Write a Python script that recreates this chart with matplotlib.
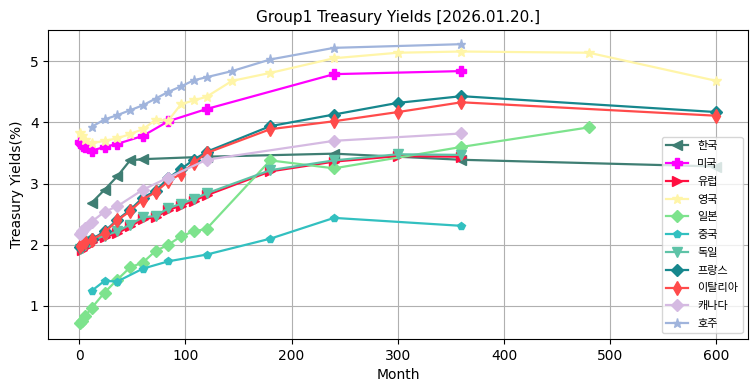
import numpy as np
import pandas as pd
import matplotlib
matplotlib.use('Agg')
import matplotlib.pyplot as plt

plt.rcParams['font.family'] = ['DejaVu Sans', 'Noto Sans CJK KR']

# 만기(개월)와 금리(%)
kr_m = [12, 24, 36, 48, 60, 120, 240, 360, 600]
kr_y = [2.69, 2.90, 3.12, 3.38, 3.40, 3.44, 3.49, 3.39, 3.28]

us_m = [1, 2, 3, 4, 6, 12, 24, 36, 60, 84, 120, 240, 360]
us_y = [3.68, 3.66, 3.64, 3.62, 3.60, 3.54, 3.60, 3.65, 3.78, 4.02, 4.22, 4.79, 4.84]

eu_m = [3, 6, 9, 12, 24, 36, 48, 60, 72, 84, 96, 108, 120, 180, 240, 300, 360]
eu_y = [1.91, 1.96, 2.00, 2.04, 2.12, 2.19, 2.30, 2.42, 2.45, 2.57, 2.64, 2.72, 2.81, 3.20, 3.36, 3.45, 3.44]

uk_m = [1, 3, 6, 12, 24, 36, 48, 60, 72, 84, 96, 108, 120, 144, 180, 240, 300, 360, 480, 600]
uk_y = [3.82, 3.78, 3.72, 3.66, 3.70, 3.74, 3.81, 3.89, 4.04, 4.03, 4.30, 4.36, 4.42, 4.68, 4.81, 5.05, 5.14, 5.16, 5.14, 4.68]

jp_m = [1, 3, 6, 12, 24, 36, 48, 60, 72, 84, 96, 108, 120, 180, 240, 360, 480]
jp_y = [0.72, 0.75, 0.84, 0.97, 1.22, 1.43, 1.63, 1.71, 1.90, 2.00, 2.14, 2.22, 2.26, 3.38, 3.25, 3.60, 3.92]

cn_m = [12, 24, 36, 60, 84, 120, 180, 240, 360]
cn_y = [1.25, 1.41, 1.40, 1.61, 1.73, 1.84, 2.10, 2.44, 2.31]

de_m = [1, 3, 6, 9, 12, 24, 36, 48, 60, 72, 84, 96, 108, 120, 180, 240, 300, 360]
de_y = [1.93, 1.95, 2.00, 2.04, 2.07, 2.15, 2.22, 2.33, 2.45, 2.47, 2.60, 2.67, 2.75, 2.84, 3.22, 3.38, 3.48, 3.47]

fr_m = [1, 3, 6, 12, 24, 36, 48, 60, 72, 84, 96, 108, 120, 180, 240, 300, 360, 600]
fr_y = [1.97, 2.00, 2.04, 2.09, 2.22, 2.41, 2.57, 2.77, 2.88, 3.09, 3.24, 3.39, 3.52, 3.94, 4.13, 4.32, 4.43, 4.17]

it_m = [1, 3, 6, 12, 24, 36, 48, 60, 72, 84, 96, 108, 120, 180, 240, 300, 360, 600]
it_y = [1.98, 2.01, 2.04, 2.08, 2.20, 2.40, 2.55, 2.74, 2.86, 3.04, 3.16, 3.34, 3.50, 3.89, 4.02, 4.17, 4.33, 4.11]

ca_m = [1, 2, 3, 6, 12, 24, 36, 60, 84, 120, 240, 360]
ca_y = [2.18, 2.20, 2.22, 2.27, 2.38, 2.54, 2.63, 2.90, 3.10, 3.39, 3.70, 3.82]

au_m = [12, 24, 36, 48, 60, 72, 84, 96, 108, 120, 144, 180, 240, 360]
au_y = [3.93, 4.05, 4.12, 4.20, 4.28, 4.39, 4.50, 4.59, 4.69, 4.74, 4.84, 5.03, 5.22, 5.28]

series = [
    ('한국', kr_m, kr_y, '#3f7e73', '<', 6.5),
    ('미국', us_m, us_y, '#ff00ff', 'P', 6.5),
    ('유럽', eu_m, eu_y, '#ff0f40', '>', 6.5),
    ('영국', uk_m, uk_y, '#fff5a8', '*', 7),
    ('일본', jp_m, jp_y, '#7de38d', 'D', 6.5),
    ('중국', cn_m, cn_y, '#32c0c0', 'p', 6),
    ('독일', de_m, de_y, '#5ec3a7', 'v', 6.5),
    ('프랑스', fr_m, fr_y, '#16878d', 'D', 6.5),
    ('이탈리아', it_m, it_y, '#ff4b4b', 'd', 7.5),
    ('캐나다', ca_m, ca_y, '#d5bae2', 'D', 6.5),
    ('호주', au_m, au_y, '#a0b4dc', '*', 6.5),
]

fig, ax = plt.subplots(figsize=(7.55, 3.91), dpi=100)
fig.subplots_adjust(left=0.064, right=0.991, top=0.923, bottom=0.133)

for name, m, y, c, mk, ms in series:
    s = pd.Series(y, index=m)
    ax.plot(s.index, s.values, color=c, marker=mk, markersize=ms, linewidth=1.6, label=name)

ax.grid(True)
ax.set_axisbelow(True)
ax.set_ylim(0.46, 5.51)
ax.set_title('Group1 Treasury Yields [2026.01.20.]', fontsize=11)
ax.set_xlabel('Month')
ax.set_ylabel('Treasury Yields(%)')
ax.legend(loc='lower right', prop={'family': ['Noto Sans CJK KR', 'DejaVu Sans'], 'size': 8},
          labelspacing=0.7)

plt.savefig('out.png')
